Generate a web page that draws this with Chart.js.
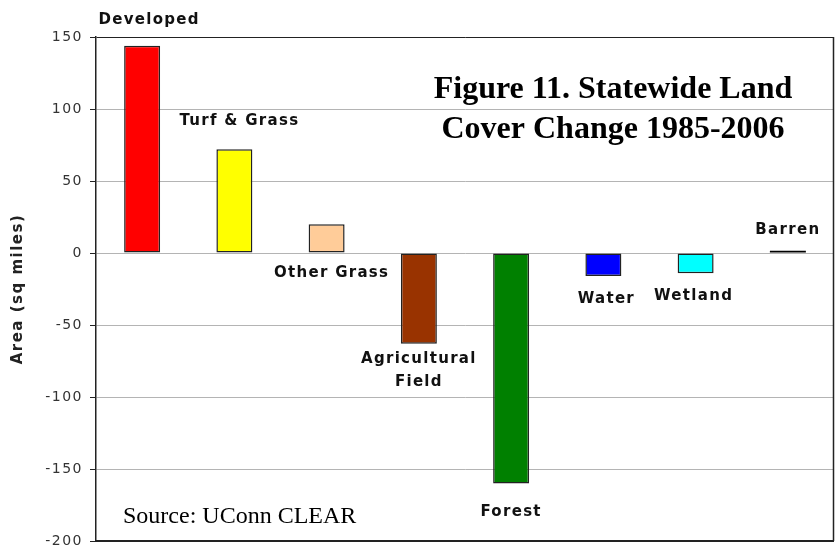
<!DOCTYPE html>
<html>
<head>
<meta charset="utf-8">
<title>Statewide Land Cover Change</title>
<script src="https://cdn.jsdelivr.net/npm/chart.js@4"></script>
<style>
  html, body { margin: 0; padding: 0; background: #fff; }
  #wrap { width: 835px; height: 548px; }
</style>
</head>
<body>
<div id="wrap"><canvas id="landChart"></canvas></div>
<script>
// Land cover change 1985-2006 (sq miles)
const categories = ['Developed', 'Turf & Grass', 'Other Grass', ['Agricultural', 'Field'], 'Forest', 'Water', 'Wetland', 'Barren'];
const areaChange = [144, 72, 20, -63, -160, -16, -14, 1.5];
const barColors = ['#ff0000', '#ffff00', '#ffcc99', '#993300', '#008000', '#0000ff', '#00ffff', '#000000'];
const yMin = -200;
const yMax = 150;
const yStep = 50;

// where each bar label sits, relative to the bar end (or base)
const labelAnchor = ['end', 'end', 'base', 'end', 'end', 'end', 'end', 'end'];
const labelShift = [[7, -26], [5, -28], [5, 21], [0, 15], [0, 29], [3, 23], [-2, 23], [0, -21]];

Chart.defaults.font.family = "'DejaVu Sans', Verdana, sans-serif";
Chart.defaults.color = '#333';

const spacingPlugin = {
  id: 'spacing',
  beforeDraw(chart) {
    chart.ctx.letterSpacing = '1.5px';
  }
};

const barLabels = {
  id: 'barLabels',
  afterDatasetsDraw(chart) {
    const ctx = chart.ctx;
    const meta = chart.getDatasetMeta(0);
    ctx.save();
    ctx.letterSpacing = '1.3px';
    ctx.font = "bold 15px 'DejaVu Sans', Verdana, sans-serif";
    ctx.fillStyle = '#111';
    ctx.textAlign = 'center';
    ctx.textBaseline = 'middle';
    meta.data.forEach((bar, i) => {
      const lines = Array.isArray(categories[i]) ? categories[i] : [categories[i]];
      const y0 = (labelAnchor[i] === 'base' ? bar.base : bar.y) + labelShift[i][1];
      lines.forEach((line, j) => {
        ctx.fillText(line, bar.x + labelShift[i][0], y0 + j * 23);
      });
    });
    ctx.restore();
  }
};

const overlayText = {
  id: 'overlayText',
  afterDraw(chart) {
    const ctx = chart.ctx;
    const area = chart.chartArea;
    ctx.save();
    ctx.letterSpacing = '0px';
    // plot frame: right side and bottom
    ctx.strokeStyle = '#222';
    ctx.lineWidth = 1.5;
    ctx.beginPath();
    ctx.moveTo(area.right - 0.5, area.top);
    ctx.lineTo(area.right - 0.5, area.bottom);
    ctx.stroke();
    ctx.lineWidth = 2;
    ctx.beginPath();
    ctx.moveTo(area.left, area.bottom);
    ctx.lineTo(area.right, area.bottom);
    ctx.stroke();

    ctx.fillStyle = '#000';
    ctx.textAlign = 'center';
    ctx.textBaseline = 'alphabetic';
    ctx.font = "bold 32px 'Liberation Serif', 'Times New Roman', serif";
    const cx = area.right - 221;
    ctx.fillText('Figure 11. Statewide Land', cx, area.top + 60.5);
    ctx.fillText('Cover Change 1985-2006', cx, area.top + 100.5);

    ctx.textAlign = 'left';
    ctx.font = "24px 'Liberation Serif', 'Times New Roman', serif";
    ctx.fillText('Source: UConn CLEAR', area.left + 27, area.bottom - 18);
    ctx.restore();
  }
};

new Chart(document.getElementById('landChart'), {
  type: 'bar',
  data: {
    labels: categories,
    datasets: [{
      data: areaChange,
      backgroundColor: barColors,
      borderColor: (c) => c.dataIndex === 7 ? '#000' : '#222',
      borderWidth: (c) => c.dataIndex === 7 ? 0 : 1.5,
      borderSkipped: false,
      barPercentage: 0.39,
      categoryPercentage: 1
    }]
  },
  options: {
    responsive: true,
    maintainAspectRatio: false,
    animation: false,
    layout: { padding: { top: 37, right: 1, bottom: 7, left: 0 } },
    plugins: {
      legend: { display: false },
      tooltip: { enabled: false }
    },
    scales: {
      x: {
        display: false
      },
      y: {
        min: yMin,
        max: yMax,
        ticks: {
          stepSize: yStep,
          padding: 7,
          color: '#333',
          font: { size: 14 }
        },
        grid: {
          color: (c) => (c.tick && (c.tick.value === yMax || c.tick.value === yMin)) ? '#222' : '#b4b4b4',
          tickColor: '#222',
          tickLength: 6
        },
        border: { display: true, color: '#222', width: 1.5 },
        title: {
          display: true,
          text: 'Area (sq miles)',
          color: '#222',
          font: { size: 15, weight: 'bold' },
          padding: { top: 9, bottom: 0 }
        },
        afterFit: (scale) => {
          scale.width = 96;
          scale.paddingTop = 0;
          scale.paddingBottom = 0;
        }
      }
    }
  },
  plugins: [spacingPlugin, barLabels, overlayText]
});
</script>
</body>
</html>
